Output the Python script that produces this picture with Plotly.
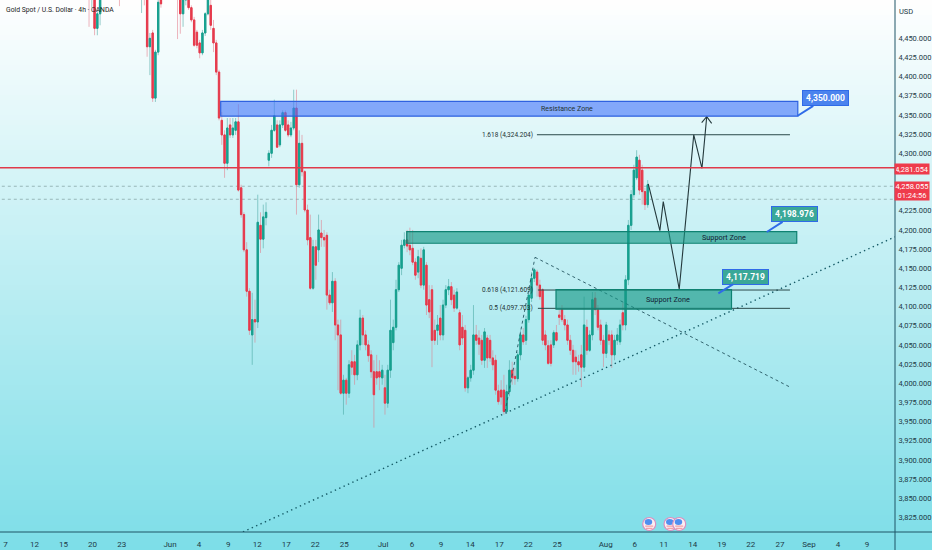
import plotly.graph_objects as go

# ---------- data ----------
opens = [4510,4503,4513,4463,4482,4507,4526,4540,4552,4545,4530,4528,4520,4535,4548,4556,4548,4536,4525,4507,
4520,4510,4439,4457,4372,4432,4500,4505,4518,4530,4540,4528,4513,4504,4482,4500,4507,4490,4474,4458,
4444,4431,4457,4482,4493,4463,4444,4406,4343,4324,4287,4337,4324,4330,4341,4255,4220,4174,4120,4063,
4083,4080,4206,4188,4216,4291,4300,4330,4337,4311,4337,4353,4337,4324,4333,4359,4259,4313,4276,4226,
4190,4124,4178,4174,4196,4190,4193,4115,4105,4133,4076,4063,3987,4004,3987,4028,4028,4011,4050,4085,
4063,4050,4037,4015,4015,4015,4007,3994,3974,4017,4053,4073,4122,4150,4180,4187,4180,4176,4158,4145,
4163,4128,4154,4109,4122,4069,4069,4085,4063,4102,4122,4126,4115,4098,4092,4073,4069,3994,4007,4017,
4063,4059,4056,4030,4059,4056,4033,4030,3990,3991,3991,3963,3989,4017,4009,4006,4037,4063,4056,4083,
4111,4137,4145,4128,4122,4063,4049,4050,4050,4066,4089,4096,4083,4076,4056,4043,4034,4028,4037,4021,
4073,4043,4063,4111,4096,4076,4056,4039,4063,4063,4037,4056,4054,4092,4076,4135,4206,4246,4268,4291,
4278,4250,4233]
closes = [4503,4513,4463,4482,4507,4526,4540,4552,4545,4530,4520,4520,4535,4548,4556,4548,4536,4525,4515,4520,
4510,4439,4450,4372,4432,4497,4495,4518,4530,4540,4528,4516,4504,4482,4500,4507,4490,4474,4441,4441,
4431,4457,4482,4504,4467,4444,4406,4346,4324,4287,4333,4324,4333,4341,4252,4220,4174,4120,4069,4083,
4080,4210,4188,4217,4223,4300,4330,4349,4308,4337,4353,4330,4324,4333,4359,4259,4313,4276,4226,4187,
4124,4178,4154,4200,4190,4187,4115,4105,4133,4076,4063,3987,4004,3987,4024,4021,4011,4050,4085,4063,
4050,4036,4015,3985,4007,4008,4017,3974,4017,4069,4073,4122,4154,4180,4187,4179,4174,4158,4141,4165,
4128,4174,4102,4093,4056,4056,4076,4063,4102,4122,4126,4109,4098,4119,4050,4059,3994,4007,4017,4063,
4056,4051,4030,4067,4033,4033,4024,3991,3976,3982,3963,3989,4017,4007,4006,4037,4063,4054,4083,4115,
4137,4148,4128,4113,4056,4050,4026,4026,4066,4056,4086,4083,4076,4056,4043,4028,4028,4024,4021,4076,
4043,4063,4109,4096,4073,4056,4039,4076,4056,4037,4056,4063,4076,4076,4135,4206,4246,4278,4295,4252,
4250,4233,4259]
highs = [4520,4520,4516,4487,4513,4533,4546,4558,4560,4550,4536,4534,4540,4553,4562,4560,4552,4540,4530,4526,
4526,4513,4457,4461,4435,4500,4507,4524,4536,4546,4545,4532,4520,4507,4507,4513,4513,4493,4478,4461,
4448,4461,4484,4508,4504,4474,4448,4409,4354,4330,4346,4346,4346,4346,4364,4259,4223,4184,4124,4118,
4109,4246,4223,4233,4236,4304,4337,4370,4343,4343,4356,4356,4343,4341,4383,4383,4330,4324,4278,4233,
4220,4187,4187,4220,4213,4200,4197,4122,4145,4137,4083,4083,4011,4007,4030,4043,4037,4056,4096,4089,
4069,4056,4043,4030,4037,4030,4024,4011,4024,4109,4083,4135,4158,4187,4197,4200,4203,4200,4163,4174,
4176,4178,4158,4128,4128,4083,4089,4102,4109,4128,4136,4132,4122,4124,4096,4089,4076,4009,4024,4102,
4076,4069,4063,4072,4063,4063,4043,4037,3998,4004,4011,3998,4030,4028,4020,4041,4069,4072,4088,4124,
4145,4150,4148,4135,4124,4069,4056,4056,4069,4076,4096,4102,4089,4083,4063,4050,4043,4037,4050,4113,
4083,4069,4119,4119,4102,4083,4063,4080,4069,4069,4063,4072,4083,4105,4141,4213,4252,4285,4304,4298,
4285,4255,4265]
lows = [4465,4490,4454,4454,4467,4500,4520,4534,4538,4524,4510,4492,4512,4530,4542,4540,4528,4515,4508,4483,
4493,4426,4402,4367,4367,4428,4490,4502,4512,4525,4522,4510,4449,4456,4465,4493,4487,4471,4439,4437,
4424,4428,4453,4480,4461,4432,4402,4343,4311,4268,4278,4320,4320,4324,4250,4216,4171,4113,4063,4024,
4053,4072,4170,4176,4206,4283,4294,4328,4307,4308,4333,4328,4321,4321,4330,4220,4255,4270,4223,4180,
4122,4122,4135,4158,4178,4178,4096,4102,4093,4056,3991,3985,3959,3972,3981,4011,3998,4004,4043,4050,
4043,4028,4007,3942,3998,3991,3998,3959,3968,4007,4043,4069,4119,4141,4176,4171,4167,4154,4135,4137,
4124,4122,4089,4085,4021,4050,4050,4056,4056,4098,4115,4102,4093,4096,4043,4050,3989,3987,4002,4011,
4050,4037,4024,4020,4020,4028,4017,3985,3972,3972,3959,3960,3983,3998,3998,4002,4030,4050,4050,4079,
4106,4132,4113,4109,4050,4043,4024,4022,4046,4054,4076,4080,4069,4050,4037,4011,4011,4015,3995,4015,
4037,4041,4056,4089,4069,4050,4021,4033,4050,4020,4030,4050,4050,4069,4069,4128,4200,4242,4265,4246,
4233,4226,4229]

first_bar_day = 8.63
bars_per_day = 3.5

tick_days = [0,3,6,9,12,17,20,23,26,29,32,35,39,42,45,48,51,54,57,62,65,68,71,74,77,80,83,86,89]
tick_labels = ["7","12","15","20","23","Jun","4","9","12","17","22","25","Jul","6","9","14","17","22","25",
               "Aug","6","11","14","19","22","27","Sep","4","9"]
price_ticks = [4450,4425,4400,4375,4350,4325,4300,4225,4200,4175,4150,4125,4100,4075,4050,4025,4000,
               3975,3950,3925,3900,3875,3850,3825]

last_close_level = 4281.054
dotted_levels = [4257, 4240]
resistance_zone = dict(days=[22.23, 81.85], prices=[4348.4, 4367.8])
upper_support = dict(days=[41.45, 81.74], prices=[4182.6, 4197.7])
lower_support = dict(days=[56.87, 75.0], prices=[4096.5, 4122.2])
fib_levels = [4324.204, 4121.609, 4097.703]
fib_labels = ["1.618 (4,324.204)", "0.618 (4,121.609)", "0.5 (4,097.703)"]
fib_days = [[54.9, 81.04], [55.0, 81.04], [55.0, 81.04]]
path_days = [66.4, 67.6, 67.95, 69.6, 71.1, 71.95, 72.44]
path_prices = [4260, 4199, 4237, 4122.6, 4324, 4280.4, 4347.8]
head_days = [71.92, 72.44, 72.95]
head_prices = [4340, 4347.8, 4339]
trend_days = [24.53, 91.9]
trend_prices = [3806, 4191]
swing_days = [51.6, 54.7, 81.04]
swing_prices = [3962.5, 4164.3, 3995]
event_days = [66.5, 68.7, 69.6]
# ------------------------------------------------

W, H = 932, 550
PX = 9.68
OFF = 5.5
FONT = "Liberation Sans Narrow, Roboto, sans-serif"
INK = "#1d3a46"
AXIS = "#1f5566"

days = [first_bar_day + i / bars_per_day for i in range(len(opens))]
body_hi = [max(o, c) for o, c in zip(opens, closes)]
body_lo = [min(o, c) for o, c in zip(opens, closes)]

fig = go.Figure()
fig.add_trace(go.Candlestick(x=days, open=opens, high=highs, low=lows, close=closes, whiskerwidth=0,
    increasing=dict(line=dict(color="rgba(70,165,160,0.55)", width=1), fillcolor="rgba(70,165,160,0.55)"),
    decreasing=dict(line=dict(color="rgba(225,120,135,0.55)", width=1), fillcolor="rgba(225,120,135,0.55)"),
    showlegend=False, hoverinfo="skip"))
fig.add_trace(go.Candlestick(x=days, open=opens, high=body_hi, low=body_lo, close=closes, whiskerwidth=0,
    increasing=dict(line=dict(color="#17a08f", width=1), fillcolor="#17a08f"),
    decreasing=dict(line=dict(color="#e63a4c", width=1), fillcolor="#e63a4c"),
    showlegend=False, hoverinfo="skip"))


def line(xs, ys, color="#24393c", width=1, dash="solid"):
    fig.add_trace(go.Scatter(x=xs, y=ys, mode="lines", line=dict(color=color, width=width, dash=dash),
                             showlegend=False, hoverinfo="skip"))


line(trend_days, trend_prices, "#155a66", 1.4, "1.4px,3.4px")
line(swing_days[:2], swing_prices[:2], "#245560", 0.9, "3px,3px")
line(swing_days[1:], swing_prices[1:], "#245560", 0.9, "3px,3px")
for lv, ds in zip(fib_levels, fib_days):
    line(ds, [lv, lv], "#2b4a4a", 1)
line(path_days, path_prices, "#24393c", 1.1)
line(head_days, head_prices, "#24393c", 1.1)

shapes = []
# page gradient
N = 110
for k in range(N):
    t = (k + 0.5) / N
    col = "rgb(%d,%d,%d)" % (255 - 130 * t, 255 - 33 * t, 255 - 23 * t)
    shapes.append(dict(type="rect", xref="paper", yref="paper", x0=0, x1=1, y0=1 - k / N, y1=1 - (k + 1) / N - 0.001,
                       fillcolor=col, line=dict(width=0), layer="below"))
for lv in dotted_levels:
    shapes.append(dict(type="line", xref="x", yref="y", x0=-1, x1=93, y0=lv, y1=lv,
                       line=dict(color="#8aa8aa", width=0.8, dash="dot"), layer="below"))
shapes.append(dict(type="line", xref="x", yref="y", x0=-1, x1=93, y0=last_close_level, y1=last_close_level,
                   line=dict(color="#e03a4a", width=1.4)))
for z, fill, edge in [(resistance_zone, "rgba(70,120,250,0.62)", "#2f62e0"),
                      (upper_support, "rgba(20,150,130,0.62)", "#0f8272"),
                      (lower_support, "rgba(20,150,130,0.62)", "#0f8272")]:
    shapes.append(dict(type="rect", xref="x", yref="y", x0=z["days"][0], x1=z["days"][1],
                       y0=z["prices"][0], y1=z["prices"][1], fillcolor=fill, line=dict(color=edge, width=1.2)))
# axis frame
shapes.append(dict(type="line", xref="paper", yref="paper", x0=895 / W, x1=895 / W, y0=0, y1=1,
                   line=dict(color=AXIS, width=1)))
shapes.append(dict(type="line", xref="paper", yref="paper", x0=0, x1=1, y0=1 - 532 / H, y1=1 - 532 / H,
                   line=dict(color=AXIS, width=1)))
# event flags
def pix(kind, d, x0, x1, y0, y1, fill, edge=None, w=0):
    shapes.append(dict(type=kind, xref="x", yref="paper", xsizemode="pixel", ysizemode="pixel",
                       xanchor=d, yanchor=1 - 524 / H, x0=x0, x1=x1, y0=y0, y1=y1, fillcolor=fill,
                       line=dict(color=edge or fill, width=w)))
for d in event_days:
    pix("circle", d, -6.5, 6.5, -6.5, 6.5, "#fbeef2", "#d98fc0", 1.2)
    pix("circle", d, -4.5, 3, -1, 5, "#4f8ff0")
    pix("rect", d, -4, 4, -2.6, -1.6, "#ef8d96")
    pix("rect", d, -3.2, 3.2, -4.8, -3.8, "#ef8d96")

ann = []
def text(x, y, s, size=8.5, color=INK, xref="paper", yref="paper", anchor="center", **kw):
    ann.append(dict(x=x, y=y, xref=xref, yref=yref, text=s, showarrow=False, xanchor=anchor, yanchor="middle",
                    font=dict(family=FONT, size=size, color=color), **kw))

text(4 / W, 1 - 10.5 / H, "Gold Spot / U.S. Dollar · 4h · OANDA", size=6.8, anchor="left", color="#222")
text(906 / W, 1 - 11 / H, "USD", size=7.5)
text(58.0, 4358, "Resistance Zone", size=7, xref="x", yref="y", color="#233")
text(74.2, 4190, "Support Zone", size=7.3, xref="x", yref="y", color="#123")
text(68.4, 4109, "Support Zone", size=7.3, xref="x", yref="y", color="#123")
for lab, lv, ds in zip(fib_labels, fib_levels, fib_days):
    text(ds[0] - 0.25, lv, lab, size=6.5, xref="x", yref="y", anchor="right", color="#233")
text(912 / W, 1 - 168.5 / H, "4,281.054", size=7.5, color="white", bgcolor="#ef3b4c", borderpad=1, width=32, height=8)
text(912 / W, 1 - 191 / H, "4,258.055<br>01:24:56", size=7.5, color="white", bgcolor="#ef3b4c", borderpad=0, width=34, height=18)

for tip_d, tip_p, s, fill, ax, ay in [(81.84, 4349, "4,350.000", "#4b83ee", 27.3, -17.4),
                                      (78.64, 4197.3, "4,198.976", "#3aa898", 27.6, -17.6),
                                      (73.64, 4117.3, "4,117.719", "#3aa898", 27.2, -16.6)]:
    ann.append(dict(x=tip_d, y=tip_p, xref="x", yref="y", text="<b>%s</b>" % s, showarrow=True, arrowhead=0,
                    arrowwidth=2, arrowcolor="#2f6be8", ax=ax, ay=ay, bgcolor=fill, bordercolor="#2f6be8",
                    borderwidth=1, borderpad=2, width=41, height=10,
                    font=dict(family=FONT, size=8.5, color="white")))

fig.update_layout(
    width=W, height=H, margin=dict(l=0, r=0, t=0, b=0, autoexpand=False), paper_bgcolor="white",
    plot_bgcolor="rgba(0,0,0,0)", shapes=shapes, annotations=ann, showlegend=False,
    font=dict(family=FONT, size=9, color=INK),
    xaxis=dict(domain=[0, 895 / W], range=[-OFF / PX, (895 - OFF) / PX], automargin=False, tickmode="array",
               tickvals=tick_days, ticktext=tick_labels, showgrid=False, zeroline=False, showline=False,
               ticks="outside", ticklen=4, tickcolor="rgba(0,0,0,0)", rangeslider=dict(visible=False),
               tickfont=dict(family=FONT, size=8, color=INK)),
    yaxis=dict(domain=[1 - 532 / H, 1], range=[3805.9, 4500], automargin=False, side="right", tickmode="array",
               tickvals=price_ticks, tickformat=",.3f", showgrid=False, zeroline=False, showline=False,
               ticks="outside", ticklen=1, tickcolor="rgba(0,0,0,0)", tickfont=dict(family=FONT, size=7.5, color=INK)),
)
fig.write_html("out.html", config=dict(displayModeBar=False),
               post_script="document.body.style.margin='0';document.body.style.overflow='hidden';")
